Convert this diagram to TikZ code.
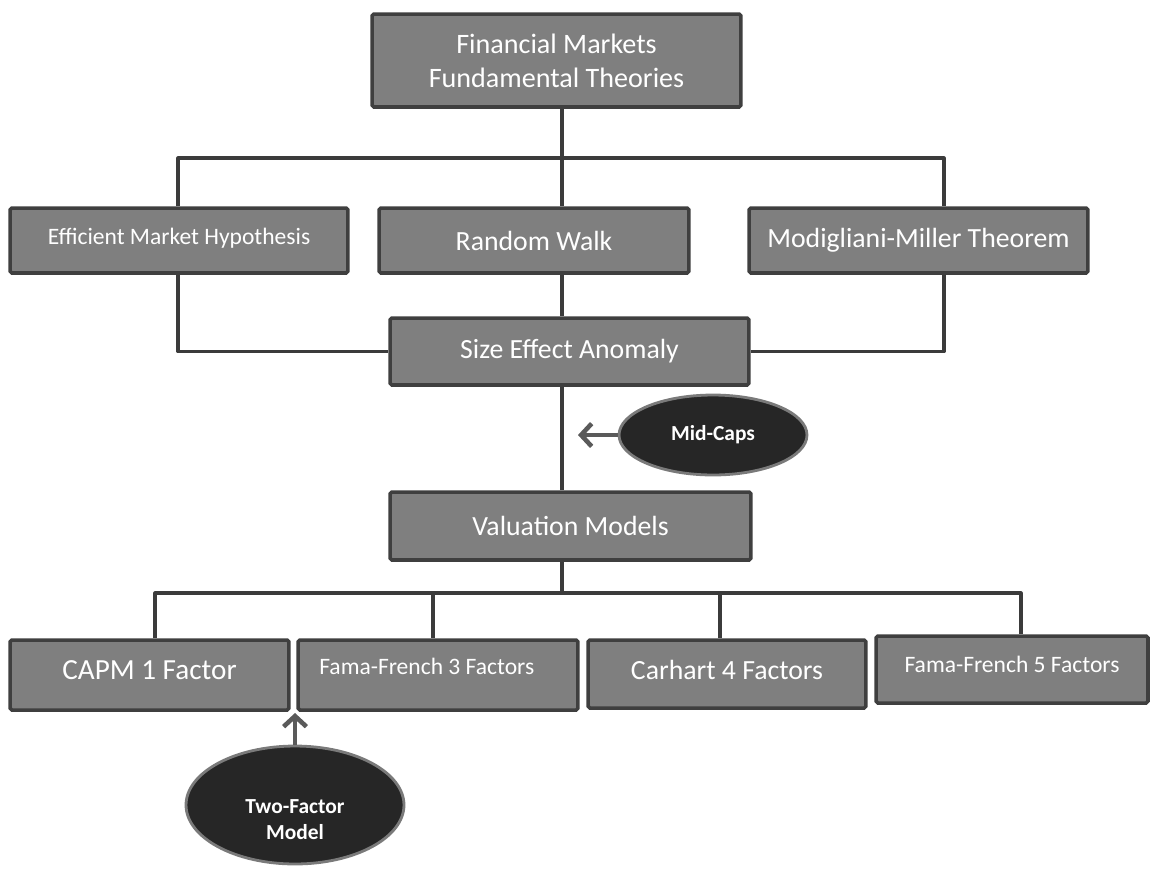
\documentclass[tikz,border=0pt]{standalone}
\usepackage{fontspec}
\setmainfont{Carlito}
\usepackage{tikz}
\usetikzlibrary{arrows.meta,shapes.geometric}

\definecolor{boxfill}{HTML}{7F7F7F}
\definecolor{boxline}{HTML}{3F3F3F}
\definecolor{wireline}{HTML}{3B3B3B}
\definecolor{ovalfill}{HTML}{262626}
\definecolor{ovalline}{HTML}{7A7A7A}
\definecolor{pointer}{HTML}{5A5A5A}

\begin{document}
\begin{tikzpicture}[x=0.02cm,y=-0.02cm]
            \tikzstyle{every node}+=[inner sep=0pt]
            \tikzstyle{box}=[draw=boxline, fill=boxfill, line width=2pt, rounded corners=1pt,
                             text=white, align=center, font=\fontsize{15.8}{19}\selectfont]
            \tikzstyle{small}=[font=\fontsize{13.4}{16}\selectfont]
            \tikzstyle{oval}=[ellipse, draw=ovalline, fill=ovalfill, line width=1.6pt,
                              text=white, align=center, font=\bfseries\fontsize{12.2}{14.7}\selectfont]
            \tikzstyle{wire}=[draw=wireline, line width=1.8pt, line join=round]
            \tikzstyle{pointto}=[draw=pointer, line width=2.6pt, -{Straight Barb[length=6pt,width=13pt]}]
            \useasboundingbox (0,0) rectangle (1151,869);
            % boxes
            \node [box, minimum width=7.38cm, minimum height=1.86cm, font=\fontsize{16}{19.3}\selectfont]
                  (fin) at (556.5,60.5) {Financial Markets\\Fundamental Theories};
            \node [box, small, minimum width=6.76cm, minimum height=1.3cm, text depth=0.18cm]
                  (emh) at (179,240.5) {Efficient Market Hypothesis};
            \node [box, minimum width=6.2cm, minimum height=1.3cm] (rw) at (534,240.5) {Random Walk};
            \node [box, minimum width=6.78cm, minimum height=1.3cm] (mm) at (918.5,240.5) {Modigliani-Miller Theorem};
            \node [box, minimum width=7.18cm, minimum height=1.34cm] (size) at (569.5,351.5) {Size Effect Anomaly};
            \node [box, minimum width=7.22cm, minimum height=1.36cm] (val) at (570.5,526) {Valuation Models};
            \node [box, minimum width=5.58cm, minimum height=1.4cm, text depth=0.2cm,
                   font=\fontsize{16.6}{19}\selectfont] (capm) at (149.5,675) {CAPM 1 Factor};
            \node [box, small, minimum width=5.6cm, minimum height=1.4cm, text depth=0.36cm]
                  (ff3) at (438,675) {Fama-French 3 Factors\hspace*{0.45cm}};
            \node [box, minimum width=5.56cm, minimum height=1.36cm, text depth=0.16cm]
                  (car) at (727,674) {Carhart 4 Factors};
            \node [box, small, minimum width=5.44cm, minimum height=1.34cm, text depth=0.22cm]
                  (ff5) at (1012,669.5) {Fama-French 5 Factors};
            % ovals
            \node [oval, minimum width=3.76cm, minimum height=1.6cm] (mid) at (713,435) {Mid-Caps};
            \node [oval, minimum width=4.36cm, minimum height=2.36cm, text height=1.37cm]
                  (two) at (295,805) {Two-Factor\\Model};
            % bus points
            \coordinate (spine) at (562,0);
            \coordinate (busl) at (178,158);
            \coordinate (busr) at (944,158);
            \coordinate (lowl) at (155,593);
            \coordinate (lowr) at (1021,593);
            \coordinate (ff3top) at (433,593);
            \coordinate (cartop) at (720,593);
            \coordinate (midtip) at (578,435);
            \coordinate (twotip) at (295,713);
            % connectors
            \draw [wire] (fin.south -| spine) -- (rw.north -| spine);
            \draw [wire] (emh.north -| busl) -- (busl) -- (busr) -- (mm.north -| busr);
            \draw [wire] (emh.south -| busl) |- (size.west);
            \draw [wire] (mm.south -| busr) |- (size.east);
            \draw [wire] (rw.south -| spine) -- (size.north -| spine);
            \draw [wire] (size.south -| spine) -- (val.north -| spine);
            \draw [wire] (val.south -| spine) -- (spine |- lowl);
            \draw [wire] (capm.north -| lowl) -- (lowl) -- (lowr) -- (ff5.north -| lowr);
            \draw [wire] (ff3top) -- (ff3.north -| ff3top);
            \draw [wire] (cartop) -- (car.north -| cartop);
            \draw [pointto] (mid.west) -- (midtip);
            \draw [pointto] (two.north) -- (twotip);
        \end{tikzpicture}
\end{document}
